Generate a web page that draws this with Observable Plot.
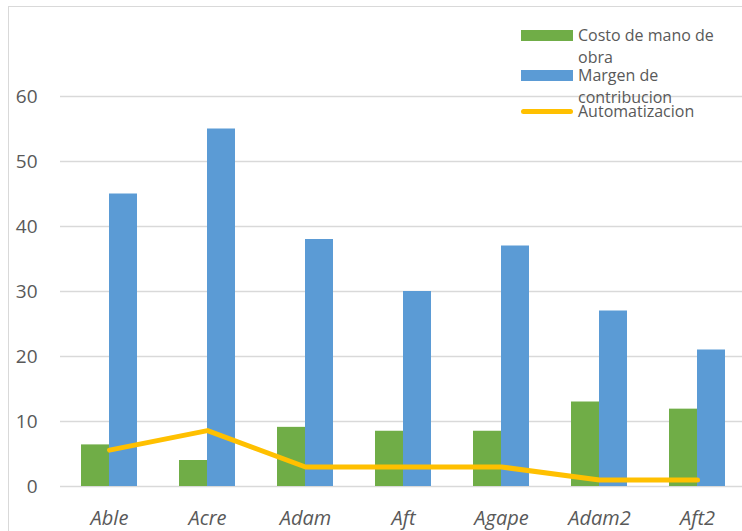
<!DOCTYPE html>
<html>
<head>
<meta charset="utf-8">
<script src="https://cdn.jsdelivr.net/npm/d3@7"></script>
<script src="https://cdn.jsdelivr.net/npm/@observablehq/plot@0.6"></script>
<style>
  html, body { margin: 0; padding: 0; background: #fff; }
  #wrap { position: relative; width: 742px; height: 531px; overflow: hidden; font-family: "Open Sans", sans-serif; }
  #frame { position: absolute; left: 8px; top: 6px; width: 760px; height: 560px; border: 1px solid #d9d9d9; box-sizing: border-box; }
  #legend { position: absolute; left: 521px; top: 24px; font-size: 16px; color: #595959; line-height: 22px; }
  .li { display: flex; align-items: flex-start; }
  .sw { width: 52px; height: 11px; margin-top: 6px; margin-right: 5px; flex: none; }
  .ln { width: 52px; height: 5px; border-radius: 3px; margin-top: 9px; margin-right: 5px; flex: none; }
</style>
</head>
<body>
<div id="wrap"><div id="frame"></div><div id="chart"></div><div id="legend"></div></div>
<script>
const categories = ["Able", "Acre", "Adam", "Aft", "Agape", "Adam2", "Aft2"];
const costoManoObra = [6.4, 4, 9.1, 8.5, 8.5, 13, 11.9];
const margenContribucion = [45, 55, 38, 30, 37, 27, 21];
const automatizacion = [5.6, 8.6, 3, 3, 3, 1, 1];
const yTicks = [0, 10, 20, 30, 40, 50, 60];
const seriesNames = ["Costo de mano de obra", "Margen de contribucion", "Automatizacion"];
const colors = ["#70AD47", "#5B9BD5", "#FFC000"];

const green = categories.map((c, i) => ({cat: c, v: costoManoObra[i]}));
const blue = categories.map((c, i) => ({cat: c, v: margenContribucion[i]}));
const line = categories.map((c, i) => ({cat: c, v: automatizacion[i]}));

const chart = Plot.plot({
  width: 742,
  height: 531,
  marginLeft: 60,
  marginRight: 0,
  marginTop: 96,
  marginBottom: 45,
  style: {fontFamily: "Open Sans, sans-serif", color: "#595959", background: "transparent"},
  x: {domain: categories, range: [59.5, 746], paddingInner: 0, paddingOuter: 0, label: null},
  y: {domain: [0, 60], label: null},
  marks: [
    Plot.ruleY(yTicks, {stroke: "#d9d9d9", strokeWidth: 1.3}),
    Plot.barY(green, {x: "cat", y: "v", fill: colors[0], insetLeft: 21, insetRight: 49}),
    Plot.barY(blue, {x: "cat", y: "v", fill: colors[1], insetLeft: 49, insetRight: 21}),
    Plot.line(line, {x: "cat", y: "v", stroke: colors[2], strokeWidth: 5, strokeLinecap: "round", strokeLinejoin: "round"}),
    Plot.axisY({ticks: yTicks, tickSize: 0, tickPadding: 23, fontSize: 19, fill: "#595959", label: null}),
    Plot.axisX({tickSize: 0, tickPadding: 24, fontSize: 20, fill: "#595959", fontStyle: "italic", label: null})
  ]
});
document.getElementById("chart").appendChild(chart);

const legend = document.getElementById("legend");
const lines = [["Costo de mano de", "obra"], ["Margen de", "contribucion"], ["Automatizacion"]];
seriesNames.forEach((name, i) => {
  const row = document.createElement("div");
  row.className = "li";
  row.style.marginTop = i === 2 ? "-8px" : (i === 1 ? "-4px" : "0px");
  const sw = document.createElement("div");
  sw.className = i === 2 ? "ln" : "sw";
  sw.style.background = colors[i];
  const t = document.createElement("div");
  t.innerHTML = lines[i].join("<br>");
  row.appendChild(sw);
  row.appendChild(t);
  legend.appendChild(row);
});
</script>
</body>
</html>
